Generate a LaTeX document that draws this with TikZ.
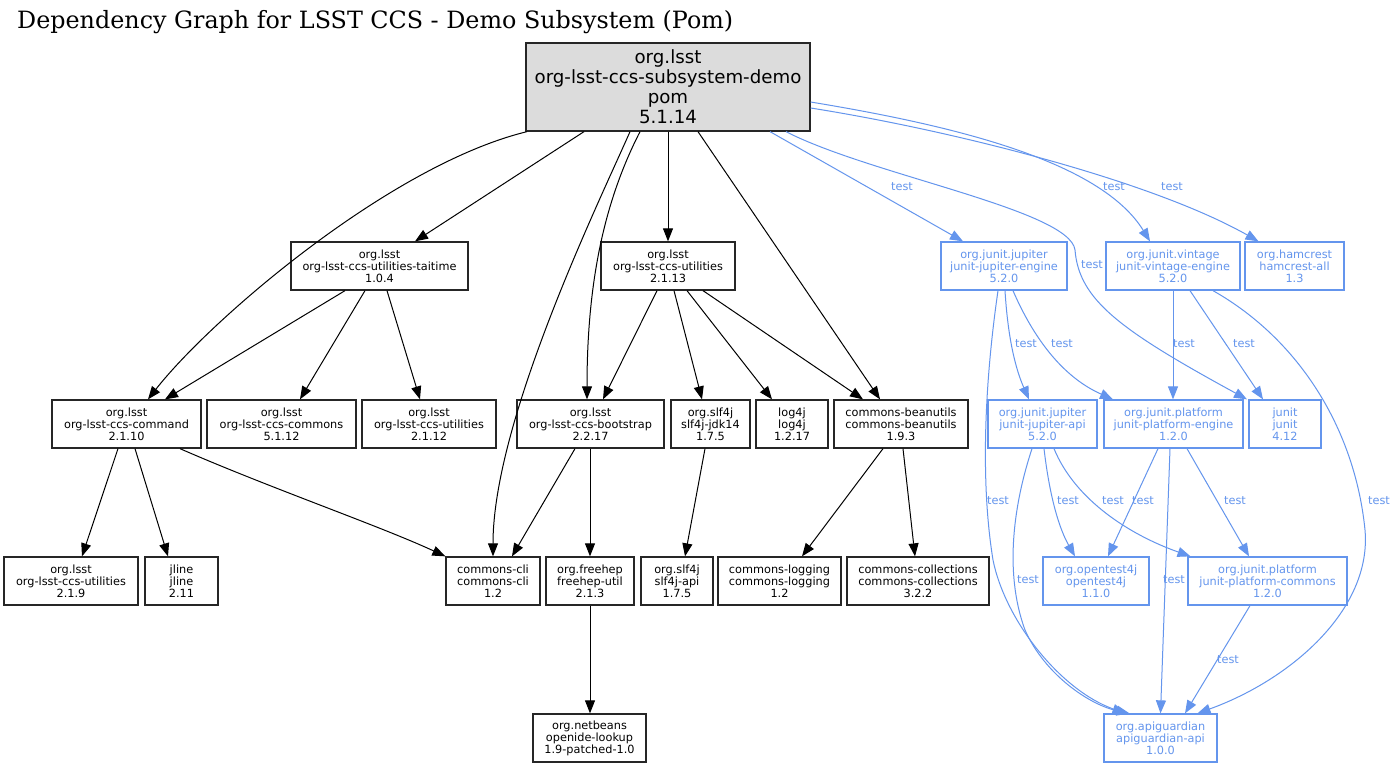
\documentclass[tikz,border=0pt]{standalone}
\usepackage{graphicx}
\usepackage{fontspec}
\setmainfont{DejaVu Sans}
\newfontfamily\titlefont{DejaVu Serif}
\usetikzlibrary{arrows.meta,calc}
\definecolor{tblue}{HTML}{6495ED}
\definecolor{rootgray}{HTML}{DCDCDC}
\begin{document}
\begin{tikzpicture}[x=1pt,y=-1pt,
  bx/.style={draw=black!85, line width=1.3pt, rectangle, inner sep=0pt, minimum height=48pt, align=center, font=\fontsize{11.3}{12}\selectfont, text=black},
  tb/.style={bx, draw=tblue, text=tblue},
  e/.style={draw=black, line width=1pt, -{Triangle[length=13pt,width=10pt]}},
  te/.style={draw=tblue, line width=1pt, -{Triangle[length=13pt,width=10pt]}},
  lb/.style={text=tblue, font=\fontsize{11.3}{12}\selectfont, inner sep=0pt}
]
\fill[white] (0,0) rectangle (1397,768);
\useasboundingbox (0,0) rectangle (1397,768);

\node[anchor=base west, inner sep=0pt] (title) at (17,29) {\resizebox{716pt}{!}{\titlefont\fontsize{22}{24}\selectfont Dependency Graph for LSST CCS - Demo Subsystem (Pom)}};

% root
\node[bx, minimum width=284pt, minimum height=88pt, fill=rootgray, font=\fontsize{18.2}{20}\selectfont] (root) at (668,87) {org.lsst\\org-lsst-ccs-subsystem-demo\\pom\\5.1.14};

% row 1
\node[bx, minimum width=177pt] (taitime) at (379.5,266) {org.lsst\\org-lsst-ccs-utilities-taitime\\1.0.4};
\node[bx, minimum width=134pt] (util13) at (668,266) {org.lsst\\org-lsst-ccs-utilities\\2.1.13};
\node[tb, minimum width=126pt] (jeng) at (1004,266) {org.junit.jupiter\\junit-jupiter-engine\\5.2.0};
\node[tb, minimum width=134pt] (veng) at (1173,266) {org.junit.vintage\\junit-vintage-engine\\5.2.0};
\node[tb, minimum width=99pt] (hamcrest) at (1294.5,266) {org.hamcrest\\hamcrest-all\\1.3};

% row 2
\node[bx, minimum width=149pt] (command) at (126.5,424) {org.lsst\\org-lsst-ccs-command\\2.1.10};
\node[bx, minimum width=149pt] (commons) at (281.5,424) {org.lsst\\org-lsst-ccs-commons\\5.1.12};
\node[bx, minimum width=134pt] (util12) at (429,424) {org.lsst\\org-lsst-ccs-utilities\\2.1.12};
\node[bx, minimum width=147pt] (bootstrap) at (590.5,424) {org.lsst\\org-lsst-ccs-bootstrap\\2.2.17};
\node[bx, minimum width=79pt] (jdk14) at (710.5,424) {org.slf4j\\slf4j-jdk14\\1.7.5};
\node[bx, minimum width=72pt] (log4j) at (792,424) {log4j\\log4j\\1.2.17};
\node[bx, minimum width=134pt] (beanutils) at (901,424) {commons-beanutils\\commons-beanutils\\1.9.3};
\node[tb, minimum width=109pt] (japi) at (1042.5,424) {org.junit.jupiter\\junit-jupiter-api\\5.2.0};
\node[tb, minimum width=139pt] (peng) at (1173.5,424) {org.junit.platform\\junit-platform-engine\\1.2.0};
\node[tb, minimum width=72pt] (junit) at (1285,424) {junit\\junit\\4.12};

% row 3
\node[bx, minimum width=134pt] (util9) at (71,581) {org.lsst\\org-lsst-ccs-utilities\\2.1.9};
\node[bx, minimum width=73pt] (jline) at (181.5,581) {jline\\jline\\2.11};
\node[bx, minimum width=94pt] (cli) at (493,581) {commons-cli\\commons-cli\\1.2};
\node[bx, minimum width=88pt] (freehep) at (590,581) {org.freehep\\freehep-util\\2.1.3};
\node[bx, minimum width=72pt] (slfapi) at (677,581) {org.slf4j\\slf4j-api\\1.7.5};
\node[bx, minimum width=123pt] (logging) at (779.5,581) {commons-logging\\commons-logging\\1.2};
\node[bx, minimum width=142pt] (collections) at (918,581) {commons-collections\\commons-collections\\3.2.2};
\node[tb, minimum width=106pt] (opentest) at (1096,581) {org.opentest4j\\opentest4j\\1.1.0};
\node[tb, minimum width=159pt] (pcommons) at (1267.5,581) {org.junit.platform\\junit-platform-commons\\1.2.0};

% row 4
\node[bx, minimum width=113pt] (netbeans) at (589.5,738) {org.netbeans\\openide-lookup\\1.9-patched-1.0};
\node[tb, minimum width=113pt] (apig) at (1160.5,738) {org.apiguardian\\apiguardian-api\\1.0.0};

% black edges from root
\draw[e] ([xshift=-141pt]root.south) .. controls (390,165) and (210,320) .. ([xshift=21.5pt]command.north);
\draw[e] ([xshift=-84pt]root.south) -- ([xshift=35.5pt]taitime.north);
\draw[e] ([xshift=-38pt]root.south) .. controls (600,200) and (493,420) .. (cli.north);
\draw[e] ([xshift=-28pt]root.south) .. controls (605,200) and (587,280) .. ([xshift=-3.5pt]bootstrap.north);
\draw[e] (root.south) -- (util13.north);
\draw[e] ([xshift=30pt]root.south) -- ([xshift=-21pt]beanutils.north);

% black row 1
\draw[e] ([xshift=-34.5pt]taitime.south) -- ([xshift=38.5pt]command.north);
\draw[e] ([xshift=-14.5pt]taitime.south) -- ([xshift=18.5pt]commons.north);
\draw[e] ([xshift=7.5pt]taitime.south) -- ([xshift=-9pt]util12.north);
\draw[e] ([xshift=-11pt]util13.south) -- ([xshift=12.5pt]bootstrap.north);
\draw[e] ([xshift=6pt]util13.south) -- ([xshift=-8.5pt]jdk14.north);
\draw[e] ([xshift=19pt]util13.south) -- ([xshift=-20pt]log4j.north);
\draw[e] ([xshift=35pt]util13.south) -- ([xshift=-38pt]beanutils.north);

% black row 2
\draw[e] ([xshift=-8.5pt]command.south) -- ([xshift=11pt]util9.north);
\draw[e] ([xshift=8.5pt]command.south) -- ([xshift=-13.5pt]jline.north);
\draw[e] ([xshift=53.5pt]command.south) .. controls (270,488) and (380,526) .. (cli.north west);
\draw[e] ([xshift=-15.5pt]bootstrap.south) -- ([xshift=19pt]cli.north);
\draw[e] ([xshift=-0.5pt]bootstrap.south) -- (freehep.north);
\draw[e] ([xshift=-5.5pt]jdk14.south) -- ([xshift=8pt]slfapi.north);
\draw[e] ([xshift=-18pt]beanutils.south) -- ([xshift=22.5pt]logging.north);
\draw[e] ([xshift=2pt]beanutils.south) -- ([xshift=-3pt]collections.north);
\draw[e] (freehep.south) -- ([xshift=0.5pt]netbeans.north);

% blue edges from root
\draw[te] ([xshift=102pt]root.south) -- ([xshift=-41pt]jeng.north);
\draw[te] ([xshift=118pt]root.south) .. controls (870,175) and (1070,210) .. (1075,250) .. controls (1079,300) and (1120,330) .. ([xshift=-38pt]junit.north);
\draw[te] ([yshift=-15pt]root.east) .. controls (950,125) and (1100,160) .. ([xshift=-23pt]veng.north);
\draw[te] ([yshift=-21pt]root.east) .. controls (950,130) and (1150,180) .. ([xshift=-36pt]hamcrest.north);
\node[lb] (l1) at (902,187) {test};
\node[lb] (l2) at (1114,187) {test};
\node[lb] (l3) at (1172,187) {test};
\node[lb] (l4) at (1092,265) {test};

% blue row 1
\draw[te] ([xshift=1pt]jeng.south) .. controls (1008,340) and (1016,370) .. ([xshift=-13.5pt]japi.north);
\draw[te] ([xshift=9pt]jeng.south) .. controls (1030,330) and (1058,375) .. ([xshift=-60.5pt]peng.north);
\draw[te] ([xshift=-6pt]jeng.south) .. controls (985,380) and (980,480) .. (993,560) .. controls (1005,620) and (1060,690) .. ([xshift=-35pt]apig.north);
\draw[te] (veng.south) -- ([xshift=-0.5pt]peng.north);
\draw[te] ([xshift=17pt]veng.south) -- ([xshift=-22pt]junit.north);
\draw[te] ([xshift=40pt]veng.south) .. controls (1300,340) and (1355,430) .. (1365,530) .. controls (1372,610) and (1290,680) .. ([xshift=37pt]apig.north);
\node[lb] (l5) at (1026,344) {test};
\node[lb] (l6) at (1062,344) {test};
\node[lb] (l7) at (1184,344) {test};
\node[lb] (l8) at (1244,344) {test};
\node[lb] (l9) at (998,501) {test};
\node[lb] (l10) at (1379,501) {test};

% blue row 2
\draw[te] ([xshift=-10.5pt]japi.south) .. controls (1015,500) and (1003,570) .. (1025,630) .. controls (1045,675) and (1090,705) .. ([xshift=-31pt]apig.north);
\draw[te] ([xshift=1.5pt]japi.south) .. controls (1050,500) and (1060,530) .. ([xshift=-21pt]opentest.north);
\draw[te] ([xshift=11.5pt]japi.south) .. controls (1075,500) and (1130,535) .. ([xshift=-77pt]pcommons.north);
\draw[te] ([xshift=-15.5pt]peng.south) -- ([xshift=12pt]opentest.north);
\draw[te] ([xshift=13.5pt]peng.south) -- ([xshift=-18.5pt]pcommons.north);
\draw[te] ([xshift=-3.5pt]peng.south) -- (apig.north);
\draw[te] ([xshift=-17.5pt]pcommons.south) -- ([xshift=24.5pt]apig.north);
\node[lb] (l11) at (1068,501) {test};
\node[lb] (l12) at (1113,501) {test};
\node[lb] (l13) at (1143,501) {test};
\node[lb] (l14) at (1235,501) {test};
\node[lb] (l15) at (1028,580) {test};
\node[lb] (l16) at (1174,580) {test};
\node[lb] (l17) at (1228,660) {test};
\end{tikzpicture}
\end{document}
